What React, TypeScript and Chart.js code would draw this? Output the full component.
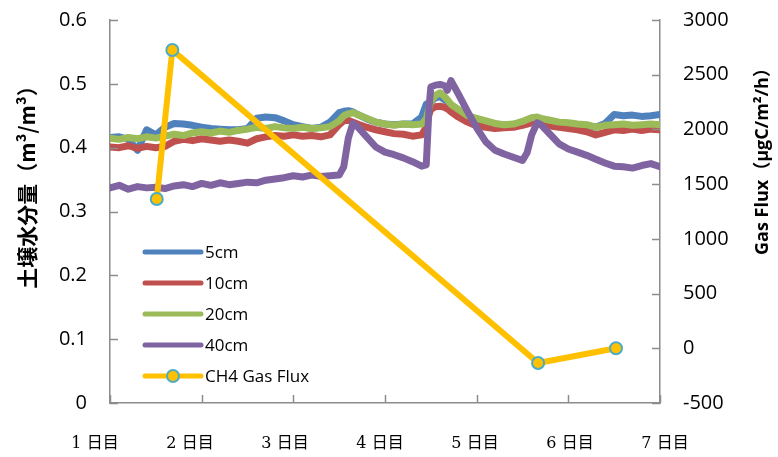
import React, { useEffect, useRef } from "react";
import { Chart, registerables } from "chart.js";

Chart.register(...registerables);

// time axis (days) shared by the soil moisture series
const days = [
  1.0, 1.1, 1.2, 1.3, 1.4, 1.5, 1.6, 1.7, 1.8, 1.9, 2.0, 2.1, 2.2, 2.3, 2.4, 2.5, 2.6, 2.7, 2.8, 2.9,
  3.0, 3.1, 3.2, 3.3, 3.4, 3.5, 3.55, 3.6, 3.65, 3.7, 3.8, 3.9, 4.0, 4.1, 4.2, 4.3, 4.4, 4.45, 4.48,
  4.5, 4.55, 4.6, 4.65, 4.68, 4.72, 4.8, 4.9, 5.0, 5.1, 5.2, 5.3, 5.4, 5.5, 5.55, 5.6, 5.66, 5.7,
  5.8, 5.9, 6.0, 6.1, 6.2, 6.3, 6.4, 6.5, 6.6, 6.7, 6.8, 6.9, 7.0,
];

const moist5cm = [
  0.416, 0.417, 0.413, 0.396, 0.428, 0.42, 0.432, 0.438, 0.437, 0.435, 0.432, 0.43, 0.429, 0.428, 0.428, 0.43, 0.446, 0.448, 0.447, 0.442,
  0.436, 0.433, 0.43, 0.432, 0.44, 0.455, 0.457, 0.458, 0.456, 0.452, 0.445, 0.44, 0.437, 0.436, 0.437, 0.437, 0.448, 0.468, 0.47,
  0.472, 0.478, 0.48, 0.475, 0.472, 0.467, 0.458, 0.449, 0.445, 0.441, 0.437, 0.435, 0.436, 0.44, 0.443, 0.446, 0.447, 0.445,
  0.442, 0.439, 0.438, 0.436, 0.435, 0.432, 0.438, 0.452, 0.45, 0.451, 0.449, 0.45, 0.452,
];

const moist10cm = [
  0.401, 0.4, 0.403, 0.399, 0.402, 0.4, 0.402, 0.41, 0.413, 0.411, 0.414, 0.412, 0.41, 0.412, 0.41, 0.407, 0.414, 0.417, 0.419, 0.418,
  0.42, 0.418, 0.419, 0.417, 0.42, 0.436, 0.442, 0.443, 0.44, 0.437, 0.432, 0.428, 0.425, 0.422, 0.421, 0.418, 0.42, 0.432, 0.452,
  0.46, 0.464, 0.465, 0.463, 0.461, 0.456, 0.448, 0.44, 0.434, 0.432, 0.43, 0.431, 0.432, 0.435, 0.437, 0.439, 0.44, 0.437,
  0.434, 0.432, 0.43, 0.428, 0.425, 0.42, 0.424, 0.428, 0.427, 0.429, 0.427, 0.429, 0.428,
];

const moist20cm = [
  0.415, 0.413, 0.416, 0.414, 0.417, 0.415, 0.418, 0.421, 0.419, 0.423, 0.425, 0.423, 0.426, 0.424, 0.427, 0.429, 0.432, 0.43, 0.433, 0.431,
  0.43, 0.432, 0.43, 0.431, 0.433, 0.442, 0.45, 0.453, 0.455, 0.452, 0.446, 0.44, 0.437, 0.435, 0.437, 0.436, 0.437, 0.445, 0.462,
  0.472, 0.482, 0.486, 0.48, 0.475, 0.468, 0.46, 0.45, 0.446, 0.442, 0.438, 0.436, 0.437, 0.441, 0.444, 0.447, 0.448, 0.446,
  0.443, 0.44, 0.439, 0.437, 0.436, 0.432, 0.435, 0.436, 0.437, 0.435, 0.436, 0.437, 0.436,
];

const moist40cm = [
  0.337, 0.341, 0.335, 0.339, 0.337, 0.338, 0.336, 0.34, 0.342, 0.339, 0.344, 0.341, 0.345, 0.342, 0.344, 0.346, 0.345, 0.349, 0.351, 0.353,
  0.356, 0.354, 0.357, 0.355, 0.356, 0.357, 0.37, 0.415, 0.438, 0.433, 0.417, 0.401, 0.393, 0.389, 0.384, 0.378, 0.371, 0.373, 0.462,
  0.495, 0.498, 0.499, 0.497, 0.49, 0.505, 0.484, 0.457, 0.431, 0.409, 0.396, 0.39, 0.385, 0.38, 0.392, 0.42, 0.439, 0.436,
  0.421, 0.406, 0.398, 0.393, 0.388, 0.382, 0.376, 0.371, 0.37, 0.368, 0.372, 0.375, 0.37,
];

// CH4 gas flux (secondary axis)
const fluxDays = [1.51, 1.68, 5.67, 6.52];
const fluxValues = [1364, 2726, -135, 0];

const seriesNames = ["5cm", "10cm", "20cm", "40cm", "CH4 Gas Flux"];
const seriesColors = ["#4F81BD", "#C0504D", "#9BBB59", "#8064A2", "#FFC000"];
const markerBorder = "#4BACC6";

const xLabels = ["1 日目", "2 日目", "3 日目", "4 日目", "5 日目", "6 日目", "7 日目"];
const leftTitle = "土壌水分量（m³/m³）";
const rightTitle = "Gas Flux（μgC/m²/h）";

const AXIS_COLOR = "#8c8c8c";
const TICK_FONT = '"Open Sans", "Noto Sans", sans-serif';

const toPts = (xs: number[], ys: number[]) => xs.map((x, i) => ({ x, y: ys[i] }));

const decorPlugin = {
  id: "decor",
  afterDraw(chart: any) {
    const { ctx, chartArea } = chart;
    const { left, right, top, bottom } = chartArea;
    const yS = chart.scales.y;
    const y2S = chart.scales.y2;
    const xS = chart.scales.x;
    ctx.save();
    // inside tick marks
    ctx.strokeStyle = AXIS_COLOR;
    ctx.lineWidth = 1.5;
    const tl = 8;
    yS.ticks.forEach((t: any) => {
      const py = Math.round(yS.getPixelForValue(t.value)) + 0.5;
      ctx.beginPath();
      ctx.moveTo(left, py);
      ctx.lineTo(left + tl, py);
      ctx.stroke();
    });
    y2S.ticks.forEach((t: any) => {
      const py = Math.round(y2S.getPixelForValue(t.value)) + 0.5;
      ctx.beginPath();
      ctx.moveTo(right - tl, py);
      ctx.lineTo(right, py);
      ctx.stroke();
    });
    xS.ticks.forEach((t: any) => {
      const px = Math.round(xS.getPixelForValue(t.value)) + 0.5;
      ctx.beginPath();
      ctx.moveTo(px, bottom);
      ctx.lineTo(px, bottom - tl);
      ctx.stroke();
    });

    // x labels (text box in original, spaced slightly wider than the ticks)
    ctx.fillStyle = "#000";
    ctx.font = '16px "DejaVu Serif", "Noto Sans CJK JP", serif';
    ctx.textAlign = "center";
    ctx.textBaseline = "middle";
    const step = (right - left + 20) / (xLabels.length - 1);
    xLabels.forEach((lab, i) => {
      ctx.fillText(lab, left - 15 + step * i, bottom + 41);
    });

    // axis titles
    ctx.font = 'bold 21px "Noto Sans CJK JP", sans-serif';
    ctx.save();
    ctx.translate(27, top + 162);
    ctx.rotate(-Math.PI / 2);
    ctx.fillText(leftTitle, 0, 0);
    ctx.restore();

    ctx.font = 'bold 18px "Open Sans", "Noto Sans CJK JP", sans-serif';
    ctx.save();
    ctx.translate(right + 103, top + 137);
    ctx.rotate(-Math.PI / 2);
    ctx.fillText(rightTitle, 0, 0);
    ctx.restore();

    // legend
    ctx.textAlign = "left";
    ctx.font = '17px "Open Sans", "Noto Sans", sans-serif';
    const lx0 = left + 35;
    const lx1 = left + 91;
    const ly0 = top + 232;
    const lgap = 31;
    chart.data.datasets.forEach((ds: any, i: number) => {
      const y = ly0 + i * lgap;
      ctx.strokeStyle = ds.borderColor;
      ctx.lineWidth = 5;
      ctx.lineCap = "round";
      ctx.beginPath();
      ctx.moveTo(lx0, y);
      ctx.lineTo(lx1, y);
      ctx.stroke();
      if (ds.pointRadius > 0) {
        ctx.beginPath();
        ctx.arc((lx0 + lx1) / 2, y, ds.pointRadius, 0, Math.PI * 2);
        ctx.fillStyle = ds.pointBackgroundColor;
        ctx.fill();
        ctx.lineWidth = ds.pointBorderWidth;
        ctx.strokeStyle = ds.pointBorderColor;
        ctx.stroke();
      }
      ctx.fillStyle = "#000";
      ctx.fillText(ds.label, lx1 + 4, y + 1);
    });
    ctx.restore();
  },
};

export default function App() {
  const ref = useRef<HTMLCanvasElement | null>(null);

  useEffect(() => {
    if (!ref.current) return;
    const moist = [moist5cm, moist10cm, moist20cm, moist40cm];
    const datasets: any[] = moist.map((vals, i) => ({
      label: seriesNames[i],
      data: toPts(days, vals),
      borderColor: seriesColors[i],
      backgroundColor: seriesColors[i],
      borderWidth: 7,
      pointRadius: 0,
      tension: 0,
      borderCapStyle: "round",
      borderJoinStyle: "round",
      yAxisID: "y",
      order: 4 - i,
    }));
    datasets.push({
      label: seriesNames[4],
      data: toPts(fluxDays, fluxValues),
      borderColor: seriesColors[4],
      backgroundColor: seriesColors[4],
      borderWidth: 6,
      pointRadius: 6,
      pointBackgroundColor: seriesColors[4],
      pointBorderColor: markerBorder,
      pointBorderWidth: 2,
      borderCapStyle: "round",
      borderJoinStyle: "round",
      yAxisID: "y2",
      order: 0,
      clip: false,
    });

    const fitVertical = (w: number) => (s: any) => {
      s.width = w;
      s.paddingTop = 0;
      s.paddingBottom = 0;
    };

    const chart = new Chart(ref.current, {
      type: "line",
      data: { datasets },
      options: {
        animation: false,
        responsive: false,
        devicePixelRatio: 1,
        layout: { padding: { top: 20, left: 0, right: 0, bottom: 0 } },
        plugins: { legend: { display: false }, tooltip: { enabled: false } },
        scales: {
          x: {
            type: "linear",
            position: "bottom",
            min: 1,
            max: 7,
            ticks: { display: false, stepSize: 1 },
            grid: { display: false, drawTicks: false },
            border: { display: true, color: AXIS_COLOR, width: 1.5 },
            afterFit: (s: any) => {
              s.height = 54;
              s.paddingLeft = 0;
              s.paddingRight = 0;
            },
          },
          y: {
            type: "linear",
            position: "left",
            min: 0,
            max: 0.6,
            ticks: {
              stepSize: 0.1,
              padding: 23,
              color: "#000",
              font: { family: TICK_FONT, size: 20 },
              callback: (v: any) => String(Math.round(Number(v) * 10) / 10),
            },
            grid: { display: false, drawTicks: false },
            border: { display: true, color: AXIS_COLOR, width: 1.5 },
            afterFit: fitVertical(110),
          },
          y2: {
            type: "linear",
            position: "right",
            min: -500,
            max: 3000,
            ticks: {
              stepSize: 500,
              padding: 23,
              color: "#000",
              font: { family: TICK_FONT, size: 20 },
              callback: (v: any) => String(v),
            },
            grid: { display: false, drawTicks: false },
            border: { display: true, color: AXIS_COLOR, width: 1.5 },
            afterFit: fitVertical(118),
          },
        },
      } as any,
      plugins: [decorPlugin],
    });
    return () => chart.destroy();
  }, []);

  return (
    <div style={{ position: "absolute", left: 0, top: 0, width: 778, height: 457, background: "#fff" }}>
      <canvas ref={ref} width={778} height={457} style={{ width: 778, height: 457 }} />
    </div>
  );
}
